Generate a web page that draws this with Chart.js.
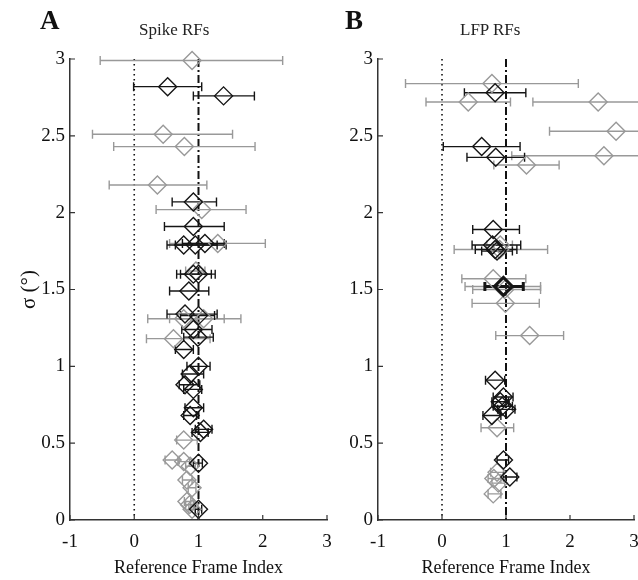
<!DOCTYPE html>
<html>
<head>
<meta charset="utf-8">
<script src="https://cdn.jsdelivr.net/npm/chart.js@4.4.1/dist/chart.umd.min.js"></script>
<style>
body { margin:0; width:638px; height:580px; overflow:hidden; background:#fff; position:relative; font-family:"Liberation Serif", "Times New Roman", serif; }
.panel { position:absolute; top:0; width:345px; height:580px; }
.letter { position:absolute; font-weight:bold; font-size:27px; color:#111; }
.ttl { position:absolute; font-size:17px; color:#222; }
</style>
</head>
<body>
<div class="panel" style="left:0"><canvas id="chartA" width="345" height="580"></canvas></div>
<div class="panel" style="left:308px"><canvas id="chartB" width="345" height="580"></canvas></div>
<div class="letter" style="left:40px;top:5px">A</div>
<div class="letter" style="left:345px;top:5px">B</div>
<div class="ttl" style="left:139px;top:20px">Spike RFs</div>
<div class="ttl" style="left:460px;top:20px">LFP RFs</div>
<script>
// panel A (spike RFs)
var aBlackSigma = [2.82, 2.76, 2.07, 1.91, 1.79, 1.79, 1.80, 1.60, 1.60, 1.49, 1.34, 1.33, 1.24, 1.19, 1.11, 1.00, 0.95, 0.88, 0.85, 0.73, 0.68, 0.59, 0.57, 0.37, 0.07];
var aBlackX     = [0.52, 1.39, 0.92, 0.92, 0.77, 0.95, 1.10, 0.92, 1.00, 0.85, 0.79, 1.00, 0.92, 0.99, 0.77, 1.00, 0.87, 0.79, 0.92, 0.92, 0.87, 1.08, 1.03, 1.00, 1.00];
var aBlackLo    = [-0.01, 0.92, 0.59, 0.47, 0.51, 0.64, 0.75, 0.66, 0.72, 0.55, 0.51, 0.72, 0.74, 0.77, 0.64, 0.82, 0.75, 0.70, 0.77, 0.79, 0.77, 0.95, 0.90, 0.92, 0.95];
var aBlackHi    = [1.05, 1.87, 1.28, 1.40, 1.43, 1.29, 1.40, 1.26, 1.20, 1.16, 1.29, 1.25, 1.21, 1.23, 0.92, 1.18, 1.08, 1.02, 1.05, 1.08, 0.97, 1.21, 1.15, 1.06, 1.05];

var aGraySigma = [2.99, 2.51, 2.43, 2.18, 2.02, 1.80, 1.62, 1.31, 1.31, 1.18, 0.52, 0.39, 0.38, 0.35, 0.26, 0.21, 0.12, 0.10, 0.07];
var aGrayX     = [0.90, 0.45, 0.78, 0.36, 1.05, 1.30, 0.96, 0.77, 1.08, 0.61, 0.77, 0.59, 0.77, 0.87, 0.82, 0.90, 0.82, 0.86, 0.90];
var aGrayLo    = [-0.53, -0.65, -0.32, -0.39, 0.34, 0.55, 0.80, 0.21, 0.55, 0.19, 0.66, 0.48, 0.68, 0.80, 0.75, 0.84, 0.78, 0.80, 0.85];
var aGrayHi    = [2.31, 1.53, 1.88, 1.13, 1.74, 2.04, 1.10, 1.66, 1.40, 1.18, 0.98, 0.70, 0.86, 0.95, 0.90, 0.96, 0.88, 0.92, 0.95];

// panel B (LFP RFs)
var bBlackSigma = [2.78, 2.43, 2.36, 1.89, 1.79, 1.76, 1.75, 0.91, 0.80, 0.77, 0.74, 0.72, 0.68, 0.39, 0.28];
var bBlackX     = [0.83, 0.62, 0.84, 0.80, 0.79, 0.83, 0.86, 0.83, 0.96, 0.91, 0.94, 1.01, 0.78, 0.96, 1.06];
var bBlackLo    = [0.35, 0.02, 0.39, 0.48, 0.47, 0.52, 0.62, 0.68, 0.80, 0.78, 0.80, 0.87, 0.64, 0.86, 0.96];
var bBlackHi    = [1.31, 1.22, 1.29, 1.21, 1.23, 1.17, 1.10, 0.98, 1.11, 1.04, 1.10, 1.14, 0.92, 1.04, 1.17];

var bHeavySigma = [1.52];
var bHeavyX     = [0.96];
var bHeavyLo    = [0.67];
var bHeavyHi    = [1.27];

var bGraySigma = [2.84, 2.72, 2.72, 2.53, 2.37, 2.31, 1.79, 1.76, 1.57, 1.52, 1.50, 1.41, 1.20, 0.60, 0.31, 0.27, 0.24, 0.17];
var bGrayX     = [0.78, 0.41, 2.44, 2.72, 2.53, 1.32, 0.91, 0.90, 0.80, 0.96, 0.98, 0.99, 1.37, 0.86, 0.86, 0.81, 0.88, 0.80];
var bGrayLo    = [-0.57, -0.25, 1.42, 1.68, 1.09, 0.81, 0.70, 0.19, 0.31, 0.36, 0.48, 0.47, 0.84, 0.61, 0.76, 0.72, 0.78, 0.72];
var bGrayHi    = [2.13, 1.07, 3.2, 3.2, 3.2, 1.83, 1.10, 1.65, 1.31, 1.54, 1.54, 1.52, 1.90, 1.12, 0.96, 0.92, 0.98, 0.92];

var xTicks = [-1, 0, 1, 2, 3];
var yTicks = [0, 0.5, 1, 1.5, 2, 2.5, 3];

var black = "#151515";
var gray = "#999999";

function pts(sig, x, lo, hi) {
    return sig.map(function (s, i) {
        return { x: x[i], y: s, lo: lo[i], hi: hi[i] };
    });
}

function series(label, data, color, width) {
    return {
        label: label,
        data: data,
        pointStyle: "rectRot",
        pointRadius: 9,
        borderColor: color,
        backgroundColor: "rgba(0,0,0,0)",
        pointBorderWidth: width,
        errWidth: width,
        clip: false
    };
}

// horizontal error bars with caps
var errorBars = {
    id: "errorBars",
    beforeDatasetsDraw: function (chart) {
        var ctx = chart.ctx;
        var xs = chart.scales.x;
        for (var d = chart.data.datasets.length - 1; d >= 0; d--) {
            var ds = chart.data.datasets[d];
            var meta = chart.getDatasetMeta(d);
            ctx.save();
            ctx.strokeStyle = ds.borderColor;
            ctx.lineWidth = ds.errWidth;
            ds.data.forEach(function (p, i) {
                var y = meta.data[i].y;
                var x1 = xs.getPixelForValue(p.lo);
                var x2 = xs.getPixelForValue(p.hi);
                ctx.beginPath();
                ctx.moveTo(x1, y); ctx.lineTo(x2, y);
                ctx.moveTo(x1, y - 4.5); ctx.lineTo(x1, y + 4.5);
                if (p.hi < 3) { ctx.moveTo(x2, y - 4.5); ctx.lineTo(x2, y + 4.5); }
                ctx.stroke();
            });
            ctx.restore();
        }
    }
};

// reference lines at 0 (dotted) and 1 (dash-dot), inward ticks
var refLines = {
    id: "refLines",
    beforeDatasetsDraw: function (chart) {
        var ctx = chart.ctx;
        var a = chart.chartArea;
        var xs = chart.scales.x;
        ctx.save();
        ctx.strokeStyle = "#111";
        ctx.lineWidth = 1.6;
        ctx.setLineDash([1.5, 3.5]);
        ctx.beginPath();
        ctx.moveTo(xs.getPixelForValue(0), a.top);
        ctx.lineTo(xs.getPixelForValue(0), a.bottom);
        ctx.stroke();
        ctx.lineWidth = 2;
        ctx.setLineDash([8, 3, 2, 3]);
        ctx.beginPath();
        ctx.moveTo(xs.getPixelForValue(1), a.top);
        ctx.lineTo(xs.getPixelForValue(1), a.bottom);
        ctx.stroke();
        ctx.restore();
    },
    afterDraw: function (chart) {
        var ctx = chart.ctx;
        var a = chart.chartArea;
        ctx.save();
        ctx.strokeStyle = "#333";
        ctx.lineWidth = 1.2;
        ctx.beginPath();
        chart.scales.y.ticks.forEach(function (t) {
            var y = chart.scales.y.getPixelForValue(t.value);
            ctx.moveTo(a.left, y); ctx.lineTo(a.left + 5, y);
        });
        chart.scales.x.ticks.forEach(function (t) {
            var x = chart.scales.x.getPixelForValue(t.value);
            ctx.moveTo(x, a.bottom); ctx.lineTo(x, a.bottom - 5);
        });
        ctx.stroke();
        ctx.restore();
    }
};

function makePanel(id, datasets, yTitle, padRight) {
    var font = { family: "'Liberation Serif', serif", size: 19 };
    return new Chart(document.getElementById(id), {
        type: "scatter",
        data: { datasets: datasets },
        options: {
            responsive: false,
            animation: false,
            events: [],
            layout: { padding: { top: 59, right: padRight, bottom: 0, left: 0 } },
            plugins: { legend: { display: false }, tooltip: { enabled: false } },
            scales: {
                x: {
                    type: "linear", min: -1, max: 3,
                    afterBuildTicks: function (s) { s.ticks = xTicks.map(function (v) { return { value: v }; }); },
                    afterFit: function (s) { s.height = 60; },
                    grid: { drawOnChartArea: false, drawTicks: false },
                    border: { display: true, color: "#333", width: 1.5 },
                    ticks: { color: "#111", font: font, padding: 11, callback: function (v) { return String(v); } },
                    title: { display: true, text: "Reference Frame Index", color: "#111", font: { family: "'Liberation Serif', serif", size: 18 }, padding: { top: 0, bottom: 1 } }
                },
                y: {
                    type: "linear", min: 0, max: 3,
                    afterBuildTicks: function (s) { s.ticks = yTicks.map(function (v) { return { value: v }; }); },
                    afterFit: function (s) { s.width = 70; },
                    grid: { drawOnChartArea: false, drawTicks: false },
                    border: { display: true, color: "#333", width: 1.5 },
                    ticks: { color: "#111", font: font, padding: 5, callback: function (v) { return String(v); } },
                    title: { display: !!yTitle, text: yTitle, color: "#111", font: { family: "'Liberation Serif', serif", size: 21 }, padding: { top: 17, bottom: 0 } }
                }
            }
        },
        plugins: [refLines, errorBars]
    });
}

makePanel("chartA", [
    series("black", pts(aBlackSigma, aBlackX, aBlackLo, aBlackHi), black, 1.4),
    series("gray", pts(aGraySigma, aGrayX, aGrayLo, aGrayHi), gray, 1.4)
], "\u03c3 (\u00b0)", 18);

makePanel("chartB", [
    series("heavy", pts(bHeavySigma, bHeavyX, bHeavyLo, bHeavyHi), black, 3),
    series("black", pts(bBlackSigma, bBlackX, bBlackLo, bBlackHi), black, 1.4),
    series("gray", pts(bGraySigma, bGrayX, bGrayLo, bGrayHi), gray, 1.4)
], "", 19);
</script>
</body>
</html>
